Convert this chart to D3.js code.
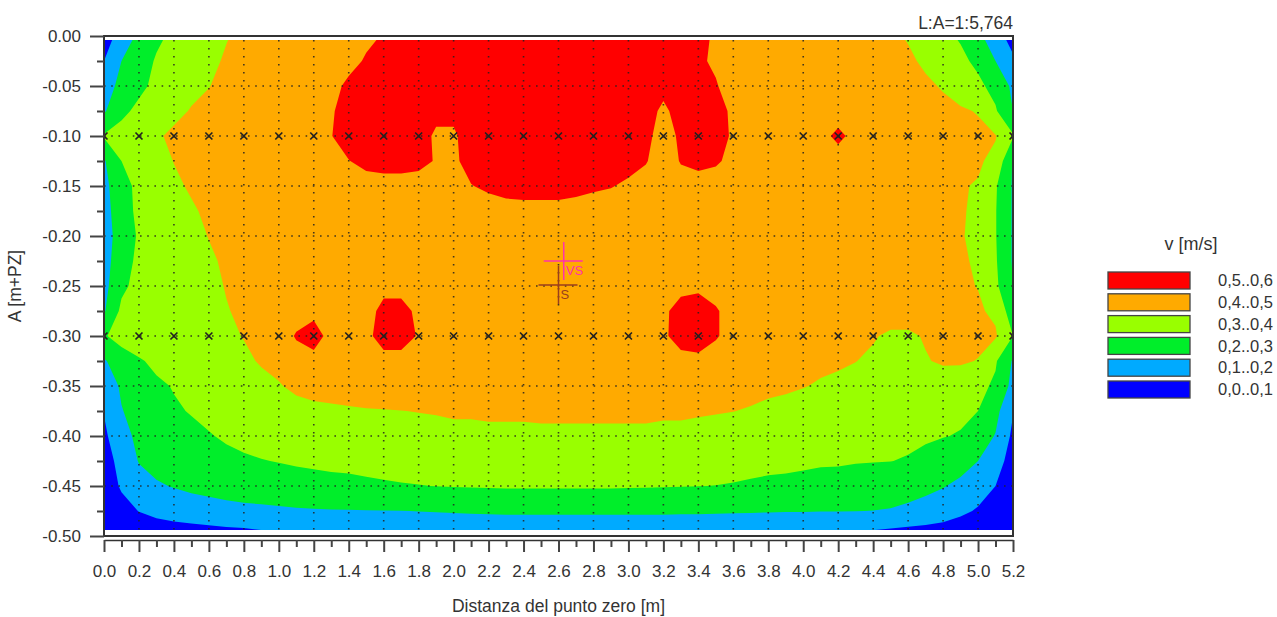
<!DOCTYPE html>
<html lang="it">
<head>
<meta charset="utf-8">
<title>v [m/s]</title>
<script src="https://d3js.org/d3.v7.min.js"></script>
<style>
  body { margin: 0; background: #fff; }
  svg text { font-family: "Liberation Sans", Arial, sans-serif; }
</style>
</head>
<body>
<div id="chart"></div>
<script>
// grid of the measured section: distance from zero point [m], depth A [m+PZ]
const xCols = [0.0,0.1,0.2,0.3,0.4,0.5,0.6,0.7,0.8,0.9,1.0,1.1,1.2,1.3,1.4,1.5,1.6,1.7,1.8,1.9,
               2.0,2.1,2.2,2.3,2.4,2.5,2.6,2.7,2.8,2.9,3.0,3.1,3.2,3.3,3.4,3.5,3.6,3.7,3.8,3.9,
               4.0,4.1,4.2,4.3,4.4,4.5,4.6,4.7,4.8,4.9,5.0,5.1,5.2];
const yRows = [0,-0.025,-0.05,-0.075,-0.1,-0.125,-0.15,-0.175,-0.2,-0.225,-0.25,
               -0.275,-0.3,-0.325,-0.35,-0.375,-0.4,-0.425,-0.45,-0.475,-0.5];

// velocity in cm/s, one row per depth
const velRows = [
  [5,14,22,28,32,34,37,39.5,42,43, 44,45,46,47,48,49,50.3,53,55,56, 57,57,58,58,58,58,58,58,57,57, 56,55,54,53,51,49.5,47,46,45,45, 44,44,43,43,42,41,39.5,35,32,29, 22,15,5],
  [10,20,25,31,33,35,38,41,42.5,43, 44,45,46,47,48.5,50.5,53,55,56,56, 57,58,58,59,59,59,59,58,58,57, 56,55,54,53,51,49,47,46,45,45, 44,44,43,43,42,41.5,41,39,35,32, 28,20,12],
  [15,23,27,33,36,38,39.8,42,43,44, 45,46,47,48.5,51,54,56,56,56,55, 56,58,59,59,60,60,59,59,58,57, 56,55,53,54,53,50.5,47,46,45,45, 44,44,44,43,43,42,41.5,41,39.5,36, 32,27,18],
  [19,27,33,36,38,40.5,42,43,44,45, 46,47,48,49.5,52,55,56,56,55,52.5, 52.5,57,59,60,60,60,60,59,58,57, 56,54,48,54,55,52,49,47,46,45, 45,45,44,44,44,44,43,42,41.5,41, 39.5,31,20],
  [31,35,37,39,41.5,43,44,45,46,46, 47,47.5,48.5,49.8,53,55,55,55,54,48.5, 48.5,55,58,60,60,60,60,59,58,57, 55,53,45,52,55,53,49,47,46,45, 45,46,53,46,45,45,44,44,43.5,43, 42,40.5,31],
  [19,30,34,37,40.2,42,43,44,45,45, 46,46,47,48,49.8,52,53,53,52,49.5, 49,52,55,57,58,58,58,57,56,54, 52,50.5,46,50.5,52,51,48,46,45,45, 44,44,44,44,44,43,43,42.5,42,41.5, 41,38,19],
  [17,27,32,36,38.5,41,42,43,44,44, 45,45,46,46,47,47,47,47,47,47, 48,49.8,51,52,52.5,52.5,52.5,52,51,50.3, 49,47,46,47,47,46.5,46,45,45,44, 44,44,44,43,43,42.5,42,41.5,41,40.5, 39.5,31,19],
  [16,26,32,35,37,39,41.5,43,44,44, 45,45,45,46,46,46,46,46,46,46, 47,47,47.5,48,48,48,48,47.5,47,47, 46,46,46,46,46,46,45,45,45,44, 44,44,44,43,43,42.5,42,41.5,41,40.5, 39,30.5,19],
  [15,25,31,34,36,38,40.2,42,43,44, 44,45,45,45,45,46,46,46,46,46, 46,46,46,46,46,46,46,46,46,46, 46,46,46,46,46,45,45,45,45,44, 44,44,44,43,43,42.5,42,41.5,41,40.3, 39,30.5,19],
  [16,26,32,34,36,37.5,39,41,42.5,43, 44,44,45,45,45,46,46,46,46,46, 46,46,46,46,46,46,46,46,46,46, 46,46,46,46,46,45,45,45,45,44, 44,44,44,43,43,42.5,42,41.5,41,40.5, 39.5,31,19],
  [17,28,33,35,36,37,38.5,40.3,42,43, 44,45,45,45,45,46,47,47,46,46, 46,46,46,46,46,46,46,46,46,46, 46,46,46,47,48,46,45,45,45,44, 44,44,44,43,43,43,42.5,42,41.5,41, 39.8,32,20],
  [19,32,35,36,37,38,39,39.7,41,42, 43,45,47,45,45,46,53,53,48,46, 46,46,46,46,46,46,46,46,46,46, 46,46,48,54,55,51,46,45,45,44, 44,44,44,43,43,43,43,43,42.5,42, 41,38.5,24],
  [29,34,35.5,36,36.5,37,38,39,40.2,42, 44,51,55,46,46,47,55,55,49,46, 46,46,46,46,46,46,46,46,46,46, 46,46,48,55,56,51,46,45,44,44, 43,43,42,41.5,40.5,39,39,40.5,41.5,42, 42,41,30],
  [19,25,29,32,34,35.5,36.5,37.5,39,40.5, 42,45,46,45,45,45,46,46,45,45, 45,45,45,45,45,45,45,45,45,45, 45,45,45,46,47,45,44,43,43,42.5, 42,41.5,41,40.1,39,38.5,38.5,39.6,40.8,41, 39.7,31,19],
  [13,21.5,26,28.5,30.5,32,34,35.5,37,38.5, 39.5,41.5,43,43.5,44,44,44,44,44,44, 44,44,44,44,44,44,44,44,44,44, 44,44,44,44,44,43.5,43,42,41.5,41, 40.3,39.3,38.5,38,37.5,37,37,37,36.5,35, 32.5,28.5,17],
  [10.5,19.5,24,27,29,30.5,32,33.5,35,36, 37,37.5,38,38.5,39,39.5,39.7,39.9,40.2,40.5, 41,41,41.5,41.5,41.5,42,42,42,42,42, 42,42,41.5,41.5,41,40.5,40.1,39.5,38.5,38, 37,36.5,36,35.5,35,34.5,34,33.5,33,31.5, 30,23,10.5],
  [8,17,22,24.5,26.5,28,29.5,31,32,33, 34,34.5,35,35.5,36,36.5,37,37,37.5,37.5, 38,38,38,38,38,38,38,38,38,38, 38,38,37.5,37.5,37,37,36.5,36,35.5,35, 34.5,34,33.5,33,32.5,32,31.5,31,30.3,29.5, 25,19.5,8],
  [6,13,20.5,23,25,26,27,28,29,29.7, 30.3,31,31.5,32,32,32.5,33,33,33,33.5, 33.5,33.5,34,34,34,34,34,34,34,34, 34,33.5,33.5,33.5,33,33,33,32.5,32,32, 31.5,31,31,30.5,30.3,30.1,29.5,28,26,23.5, 20,14,6],
  [5,11,16,19,20.5,22,23,24,25,25.5, 26,26.5,27,27.5,28,28.5,29,29.5,29.8,30.1, 30.4,30.6,30.8,31,31,31,31,31,31,31, 30.8,30.7,30.5,30.3,30.1,29.9,29.5,29,28.5,28, 27.5,27,26.5,26,25,24,23,22,20.5,18, 14.5,10,5],
  [3,7,10.2,12.5,14,15,16,17,17.5,18, 18.5,19,19.3,19.5,19.6,19.7,19.8,19.9,20.1,20.3, 20.5,20.7,20.8,21,21,21,21,21,21,21, 21,21,21,20.8,20.8,20.7,20.6,20.5,20.4,20.3, 20.3,20.2,20.2,20.1,19.9,19.5,18.5,17,15,12, 9,6,3],
  [0,2,3,4,4.5,5,5.5,6,6.5,7.5, 8.5,10.2,11,12,13,13.5,14,14,14.5,14.5, 14.5,14.5,14.5,14.5,14.5,14.5,14.5,14.5,14.5,14.5, 14.5,14.5,14.5,14.5,14.5,14.5,14,14,13.5,13, 12.5,11.5,10.2,8.5,7,6,5,4.5,4,3, 2,1,0]
];

// velocity classes (cm/s) and their legend texts, lowest first
const bandLimits = [0, 10, 20, 30, 40, 50, 60];
const bandLabels = ["0,0..0,1", "0,1..0,2", "0,2..0,3", "0,3..0,4", "0,4..0,5", "0,5..0,6"];
const bandColors = ["#0000ff", "#00aaff", "#00ee2a", "#99ff00", "#ffaa00", "#ff0000"];

const xTicks = [0.0,0.2,0.4,0.6,0.8,1.0,1.2,1.4,1.6,1.8,2.0,2.2,2.4,2.6,2.8,3.0,3.2,3.4,3.6,3.8,4.0,4.2,4.4,4.6,4.8,5.0,5.2];
const yTicks = [0,-0.05,-0.10,-0.15,-0.20,-0.25,-0.30,-0.35,-0.40,-0.45,-0.50];

// measuring points (verticals x depths)
const probeX = [0.0,0.2,0.4,0.6,0.8,1.0,1.2,1.4,1.6,1.8,2.0,2.2,2.4,2.6,2.8,3.0,3.2,3.4,3.6,3.8,4.0,4.2,4.4,4.6,4.8,5.0,5.2];
const probeY = [-0.10, -0.30];

// centroid markers
const markNames = ["VS", "S"];
const markX = [2.63, 2.60];
const markY = [-0.225, -0.249];
const markColors = ["#ff33aa", "#9a3f1c"];

const scaleNote = "L:A=1:5,764";

const W = 1277, H = 617;
const pL = 104, pR = 1013, pT = 36, pB = 536;
const fillTop = -0.004, fillBottom = -0.494;
const ink = "#333";

const x = d3.scaleLinear().domain([0, 5.2]).range([pL, pR]);
const y = d3.scaleLinear().domain([0, -0.5]).range([pT, pB]);

const svg = d3.select("#chart").append("svg")
  .attr("width", W).attr("height", H);

// contour layer
const nx = xCols.length, ny = yRows.length;
const gx = d3.scaleLinear().domain([0.5, nx - 0.5]).range([x(xCols[0]), x(xCols[nx - 1])]);
const gy = d3.scaleLinear().domain([0.5, ny - 0.5]).range([y(yRows[0]), y(yRows[ny - 1])]);
const gridPath = d3.geoPath(d3.geoTransform({
  point(a, b) { this.stream.point(gx(a), gy(b)); }
}));

svg.append("clipPath").attr("id", "plotClip")
  .append("rect")
  .attr("x", x(0)).attr("y", y(fillTop))
  .attr("width", x(5.2) - x(0)).attr("height", y(fillBottom) - y(fillTop));

const field = svg.append("g").attr("clip-path", "url(#plotClip)");
field.append("rect")
  .attr("x", x(0)).attr("y", y(fillTop))
  .attr("width", x(5.2) - x(0)).attr("height", y(fillBottom) - y(fillTop))
  .attr("fill", bandColors[0]);

const bands = d3.contours()
  .size([nx, ny])
  .thresholds(bandLimits.slice(1, -1))(velRows.flat());

field.selectAll("path.band")
  .data(bands)
  .join("path")
  .attr("class", "band")
  .attr("d", gridPath)
  .attr("fill", (d, i) => bandColors[i + 1]);

// dotted grid
const grid = svg.append("g").attr("stroke", "#222").attr("stroke-width", 1.6).attr("opacity", 0.85);
grid.selectAll("line.v")
  .data(xTicks.slice(1, -1))
  .join("line")
  .attr("class", "v")
  .attr("x1", d => x(d)).attr("x2", d => x(d))
  .attr("y1", y(fillTop)).attr("y2", y(fillBottom))
  .attr("stroke-dasharray", "1.6 6.4");
grid.selectAll("line.h")
  .data(yTicks.slice(1, -1))
  .join("line")
  .attr("class", "h")
  .attr("x1", x(0)).attr("x2", x(5.2))
  .attr("y1", d => y(d)).attr("y2", d => y(d))
  .attr("stroke-dasharray", "1.6 5.6");

// measuring points
const probes = probeY.flatMap(py => probeX.map(px => [px, py]));
svg.append("g").attr("clip-path", "url(#plotClip)")
  .selectAll("path")
  .data(probes)
  .join("path")
  .attr("transform", d => `translate(${x(d[0])},${y(d[1])})`)
  .attr("d", "M-3.5,-3.5L3.5,3.5M-3.5,3.5L3.5,-3.5")
  .attr("stroke", "#222").attr("stroke-width", 1.7).attr("fill", "none");

// VS / S crosses
const marks = svg.append("g");
markNames.forEach((name, i) => {
  const cx = x(markX[i]), cy = y(markY[i]);
  marks.append("path")
    .attr("d", `M${cx - 20},${cy}H${cx + 19}M${cx},${cy - 19}V${cy + 19}`)
    .attr("stroke", markColors[i]).attr("stroke-width", 1.5);
  marks.append("text")
    .attr("x", cx + 2).attr("y", cy + 14)
    .attr("font-size", 13).attr("fill", markColors[i])
    .text(name);
});

// frame
svg.append("rect")
  .attr("x", pL).attr("y", pT)
  .attr("width", pR - pL).attr("height", pB - pT)
  .attr("fill", "none").attr("stroke", ink).attr("stroke-width", 2);

// y axis: major and minor ticks
svg.append("g")
  .attr("transform", `translate(${pL},0)`)
  .call(d3.axisLeft(y).tickValues(yTicks).tickSize(14).tickPadding(9)
    .tickFormat(d => d.toFixed(2)))
  .select(".domain").remove();
svg.append("g")
  .attr("transform", `translate(${pL},0)`)
  .call(d3.axisLeft(y).tickValues(d3.range(-0.025, -0.5, -0.05)).tickSize(7).tickFormat(""))
  .select(".domain").remove();

// x axis: ruler line just below the frame
const xAxis = svg.append("g")
  .attr("transform", `translate(0,${pB + 4})`)
  .call(d3.axisBottom(x).tickValues(xTicks).tickSize(12).tickSizeOuter(0).tickPadding(13)
    .tickFormat(d => d.toFixed(1)));
svg.append("g")
  .attr("transform", `translate(0,${pB + 4})`)
  .call(d3.axisBottom(x).tickValues(d3.range(0.1, 5.2, 0.2)).tickSize(7).tickFormat(""))
  .select(".domain").remove();

svg.selectAll(".tick line").attr("stroke", "#444").attr("stroke-width", 2);
xAxis.select(".domain").attr("stroke", ink).attr("stroke-width", 1.6);
svg.selectAll(".tick text")
  .attr("fill", ink)
  .attr("font-size", 17)
  .attr("font-family", "Liberation Sans, Arial, sans-serif");

// titles
svg.append("text")
  .attr("x", pR).attr("y", 29)
  .attr("text-anchor", "end").attr("font-size", 17.5).attr("fill", ink)
  .text(scaleNote);

svg.append("text")
  .attr("transform", `translate(21,${(pT + pB) / 2}) rotate(-90)`)
  .attr("text-anchor", "middle").attr("font-size", 17.5).attr("fill", ink)
  .text("A [m+PZ]");

svg.append("text")
  .attr("x", (pL + pR) / 2).attr("y", 612)
  .attr("text-anchor", "middle").attr("font-size", 17.5).attr("fill", ink)
  .text("Distanza del punto zero [m]");

// legend
const legend = svg.append("g").attr("transform", "translate(1108,0)");
legend.append("text")
  .attr("x", 83).attr("y", 250)
  .attr("text-anchor", "middle").attr("font-size", 18).attr("fill", ink)
  .text("v [m/s]");

const legendRows = d3.range(bandLabels.length).reverse();
legend.selectAll("rect.key")
  .data(legendRows)
  .join("rect")
  .attr("class", "key")
  .attr("x", 0).attr("y", (d, i) => 272 + i * 21.8)
  .attr("width", 82).attr("height", 17)
  .attr("fill", d => bandColors[d])
  .attr("stroke", "#444").attr("stroke-width", 1.3);
legend.selectAll("text.key")
  .data(legendRows)
  .join("text")
  .attr("class", "key")
  .attr("x", 110).attr("y", (d, i) => 272 + i * 21.8 + 8.5)
  .attr("dy", "0.35em").attr("font-size", 16.5).attr("fill", ink)
  .text(d => bandLabels[d]);
</script>
</body>
</html>
